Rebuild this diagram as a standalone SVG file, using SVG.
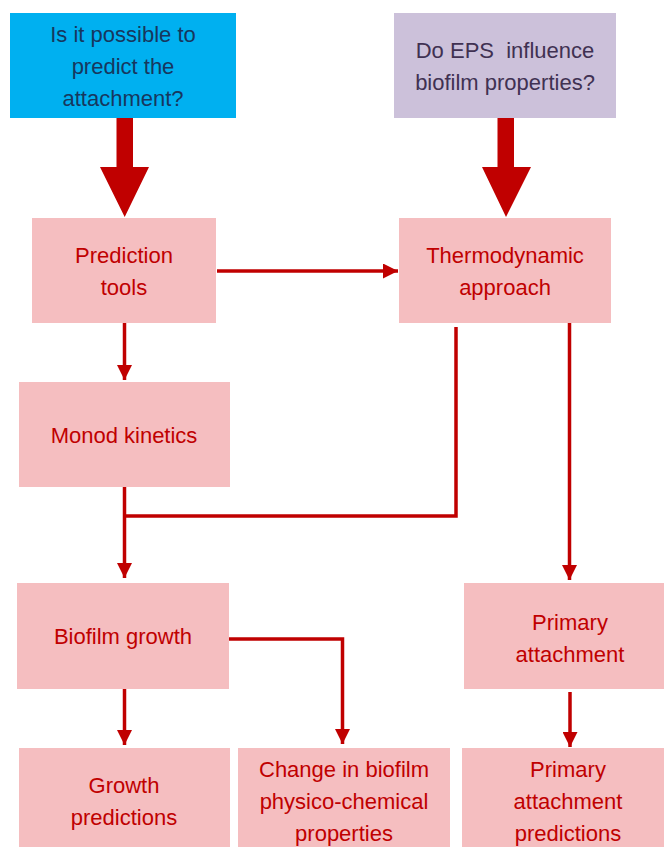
<svg xmlns="http://www.w3.org/2000/svg" width="664" height="847" viewBox="0 0 664 847">
  <defs>
    <style>
      .box { fill: #F5BEC0; }
      .lbl { font-family: "Liberation Sans", Arial, sans-serif; font-size: 22px; fill: #C00000; text-anchor: middle; }
      .q1 { fill: #00B0F0; }
      .q2 { fill: #CCC1DA; }
      .lbl-q1 { fill: #17375E; }
      .lbl-q2 { fill: #403152; white-space: pre; }
      .wire { fill: none; stroke: #C00000; stroke-width: 3.5; }
      .big { fill: #C00000; }
    </style>
    <marker id="head" viewBox="0 0 10 10" refX="10" refY="5" markerUnits="userSpaceOnUse" markerWidth="16" markerHeight="15" orient="auto">
      <path d="M0,0 L10,5 L0,10 Z" fill="#C00000"/>
    </marker>
  </defs>

  <!-- question boxes -->
  <g id="q-attachment">
    <rect class="q1" x="10" y="13" width="226" height="105"/>
    <text class="lbl lbl-q1" x="123" y="42">Is it possible to</text>
    <text class="lbl lbl-q1" x="123" y="74">predict the</text>
    <text class="lbl lbl-q1" x="123" y="106">attachment?</text>
  </g>
  <g id="q-eps">
    <rect class="q2" x="394" y="13" width="222" height="105"/>
    <text class="lbl lbl-q2" x="505" y="58">Do EPS  influence</text>
    <text class="lbl lbl-q2" x="505" y="90">biofilm properties?</text>
  </g>

  <!-- process boxes -->
  <g id="prediction-tools">
    <rect class="box" x="32" y="218" width="184" height="105"/>
    <text class="lbl" x="124" y="263">Prediction</text>
    <text class="lbl" x="124" y="295">tools</text>
  </g>
  <g id="thermodynamic">
    <rect class="box" x="399" y="218" width="212" height="105"/>
    <text class="lbl" x="505" y="263">Thermodynamic</text>
    <text class="lbl" x="505" y="295">approach</text>
  </g>
  <g id="monod">
    <rect class="box" x="19" y="382" width="211" height="105"/>
    <text class="lbl" x="124" y="443">Monod kinetics</text>
  </g>
  <g id="biofilm-growth">
    <rect class="box" x="17" y="583" width="212" height="106"/>
    <text class="lbl" x="123" y="644">Biofilm growth</text>
  </g>
  <g id="primary-attachment">
    <rect class="box" x="464" y="583" width="212" height="106"/>
    <text class="lbl" x="570" y="630">Primary</text>
    <text class="lbl" x="570" y="662">attachment</text>
  </g>
  <g id="growth-predictions">
    <rect class="box" x="19" y="748" width="211" height="106"/>
    <text class="lbl" x="124" y="793">Growth</text>
    <text class="lbl" x="124" y="825">predictions</text>
  </g>
  <g id="physchem-change">
    <rect class="box" x="238" y="748" width="212" height="106"/>
    <text class="lbl" x="344" y="777">Change in biofilm</text>
    <text class="lbl" x="344" y="809">physico-chemical</text>
    <text class="lbl" x="344" y="841">properties</text>
  </g>
  <g id="attachment-predictions">
    <rect class="box" x="462" y="748" width="212" height="106"/>
    <text class="lbl" x="568" y="777">Primary</text>
    <text class="lbl" x="568" y="809">attachment</text>
    <text class="lbl" x="568" y="841">predictions</text>
  </g>

  <!-- connectors -->
  <g id="connectors">
    <!-- block arrows from the questions -->
    <path class="big" d="M116.5,118 H133 V167 H149 L124.7,217 L100,167 H116.5 Z"/>
    <path class="big" d="M497.5,118 H514 V167 H531 L506,217 L482,167 H497.5 Z"/>

    <path class="wire" d="M217,271 H398" marker-end="url(#head)"/>
    <path class="wire" d="M124.5,323 V380" marker-end="url(#head)"/>
    <path class="wire" d="M124.5,487 V578" marker-end="url(#head)"/>
    <path class="wire" d="M456,327 V516 H124.5"/>
    <path class="wire" d="M569.5,323 V580" marker-end="url(#head)"/>
    <path class="wire" d="M229,639 H342.5 V744" marker-end="url(#head)"/>
    <path class="wire" d="M124.5,689 V745" marker-end="url(#head)"/>
    <path class="wire" d="M570,692 V747" marker-end="url(#head)"/>
  </g>
</svg>
